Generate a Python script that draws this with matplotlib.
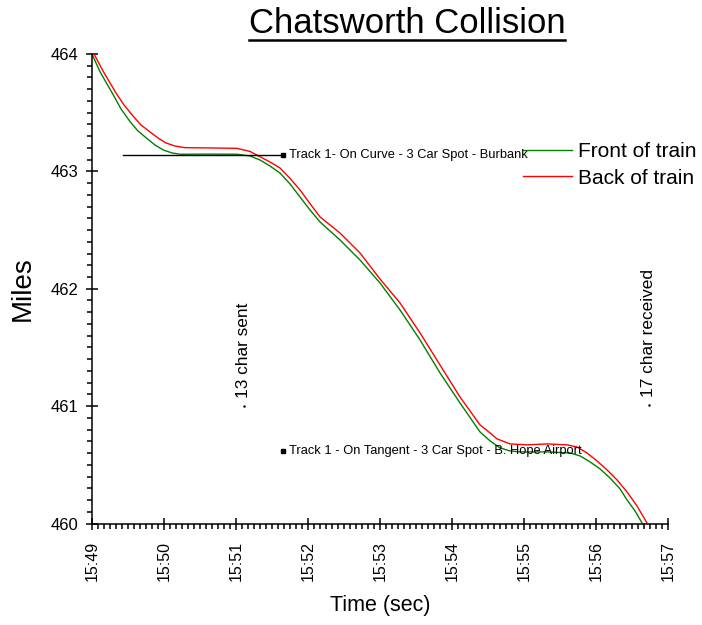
import matplotlib
matplotlib.use("Agg")
import matplotlib.pyplot as plt
from matplotlib.lines import Line2D
from matplotlib.ticker import MultipleLocator

plt.rcParams['font.family'] = ['Liberation Sans', 'DejaVu Sans']

# time in minutes after 15:49, position in miles
front_t = [0.0, 0.111, 0.296, 0.403, 0.528, 0.639, 0.76, 0.875, 0.99, 1.111, 1.222,
           1.6, 2.014, 2.194, 2.333, 2.472, 2.611, 2.75, 2.889, 3.028, 3.167, 3.444,
           3.722, 4.0, 4.278, 4.556, 4.833, 5.111, 5.389, 5.528, 5.667, 5.806, 5.944,
           6.319, 6.639, 6.778, 6.917, 7.056, 7.194, 7.333, 7.431, 7.542, 7.639]
front_mi = [464.0, 463.849, 463.651, 463.532, 463.424, 463.344, 463.282, 463.225, 463.182,
            463.157, 463.146, 463.147, 463.146, 463.131, 463.097, 463.046, 462.986,
            462.893, 462.782, 462.671, 462.569, 462.416, 462.245, 462.049, 461.819,
            461.564, 461.283, 461.027, 460.78, 460.704, 460.644, 460.618, 460.61,
            460.61, 460.601, 460.576, 460.525, 460.465, 460.388, 460.295, 460.201,
            460.107, 460.005]

back_t = [0.028, 0.153, 0.333, 0.444, 0.569, 0.681, 0.806, 0.917, 1.028, 1.153, 1.292,
          1.6, 2.014, 2.194, 2.333, 2.472, 2.611, 2.75, 2.889, 3.028, 3.167, 3.444,
          3.722, 4.0, 4.278, 4.556, 4.833, 5.111, 5.389, 5.528, 5.625, 5.806, 6.042,
          6.319, 6.597, 6.736, 6.875, 7.014, 7.153, 7.292, 7.431, 7.569, 7.708]
back_mi = [464.0, 463.855, 463.668, 463.566, 463.472, 463.395, 463.336, 463.284, 463.242,
           463.216, 463.202, 463.2, 463.196, 463.17, 463.125, 463.08, 463.029, 462.94,
           462.842, 462.725, 462.612, 462.475, 462.305, 462.083, 461.879, 461.624,
           461.351, 461.078, 460.84, 460.772, 460.721, 460.678, 460.67, 460.678,
           460.67, 460.652, 460.601, 460.533, 460.457, 460.371, 460.269, 460.15,
           460.005]

curve_line_t = [0.431, 2.653]
curve_line_mi = [463.14, 463.14]
spot_labels = ["Track 1- On Curve - 3 Car Spot - Burbank",
               "Track 1 - On Tangent - 3 Car Spot - B. Hope Airport"]
spot_t = [2.653, 2.653]
spot_mi = [463.14, 460.618]

event_labels = ["13 char sent", "17 char received"]
event_t = [2.111, 7.736]
event_mi = [461.0, 461.01]

tick_labels = ["15:49", "15:50", "15:51", "15:52", "15:53", "15:54", "15:55", "15:56", "15:57"]


def main():
    fig = plt.figure(figsize=(7.02, 6.25), dpi=100)
    ax = fig.add_axes([92 / 702, 1 - 523.5 / 625, 576 / 702, 469.5 / 625])

    ax.plot(front_t, front_mi, color='#008000', lw=1.0, label='Front of train')
    ax.plot(back_t, back_mi, color='#ff0000', lw=1.0, label='Back of train')

    ax.plot(curve_line_t, curve_line_mi, color='black', lw=1.0)
    ax.plot(spot_t, spot_mi, 's', color='black', ms=2.5, ls='none')
    for t, m, s in zip(spot_t, spot_mi, spot_labels):
        ax.annotate(s, (t, m), xytext=(4, 0), textcoords='offset points',
                    va='center', ha='left', fontsize=9.3)

    ax.plot(event_t, event_mi, '.', color='black', ms=1.5, ls='none')
    for t, m, s in zip(event_t, event_mi, event_labels):
        ax.annotate(s, (t, m), xytext=(0, 6), textcoords='offset points',
                    va='bottom', ha='center', rotation=90, fontsize=12.4)

    ax.set_xlim(0, 8)
    ax.set_ylim(460, 464)
    ax.set_xticks(range(len(tick_labels)))
    ax.set_xticklabels(tick_labels, rotation=90, fontsize=11.5)
    ax.xaxis.set_minor_locator(MultipleLocator(1 / 12))
    ax.set_yticks([460, 461, 462, 463, 464])
    ax.yaxis.set_minor_locator(MultipleLocator(0.1))
    ax.tick_params(axis='y', labelsize=12)
    ax.tick_params(which='major', direction='inout', length=9, width=1.1, pad=5)
    ax.tick_params(which='minor', direction='out', length=3.5, width=1.1)
    ax.tick_params(axis='x', which='major', pad=8)

    for side in ['top', 'right']:
        ax.spines[side].set_visible(False)
    for side in ['left', 'bottom']:
        ax.spines[side].set_linewidth(1.1)

    ax.set_xlabel('Time (sec)', fontsize=15.5)
    ax.xaxis.set_label_coords(0.5, -0.152)
    ax.set_ylabel('Miles', fontsize=20)
    ax.yaxis.set_label_coords(-0.097, 0.5)

    ax.legend(loc='upper left', bbox_to_anchor=(523 / 702, 1 - 142 / 625),
              bbox_transform=fig.transFigure, frameon=False, fontsize=15,
              handlelength=2.35, handletextpad=0.3, borderpad=0, borderaxespad=0,
              labelspacing=0.36)

    title = fig.text(407 / 702, 1 - 33 / 625, 'Chatsworth Collision', fontsize=25,
                     ha='center', va='baseline')
    fig.canvas.draw()
    bb = title.get_window_extent()
    W = fig.bbox.width
    fig.add_artist(Line2D([bb.x0 / W, bb.x1 / W], [1 - 40 / 625] * 2,
                          transform=fig.transFigure, color='black', lw=1.8))

    fig.savefig('out.png', dpi=100)


if __name__ == '__main__':
    main()
